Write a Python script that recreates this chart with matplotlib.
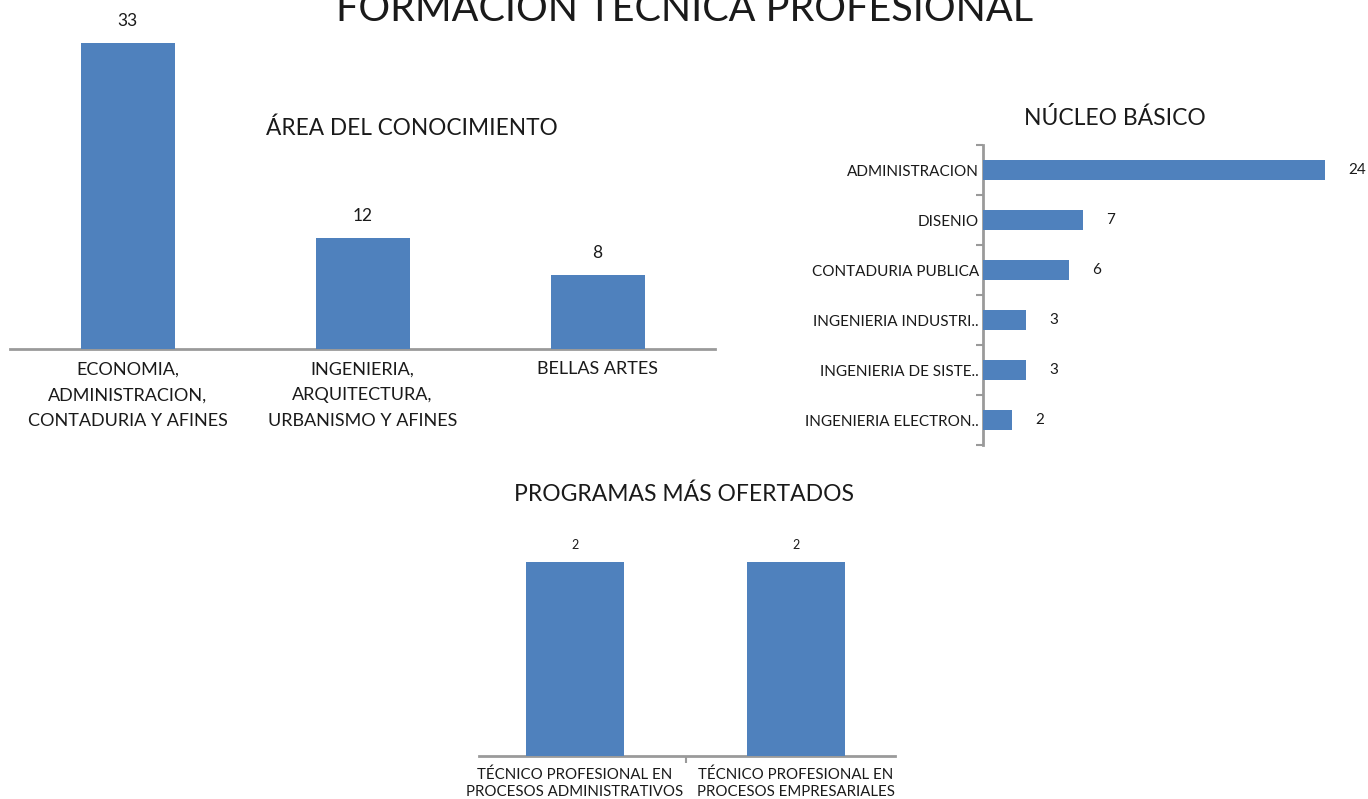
import matplotlib
matplotlib.use("Agg")
import matplotlib.pyplot as plt
import numpy as np

plt.rcParams["font.family"] = ["Lato", "DejaVu Sans"]

# ── Datos ────────────────────────────────────────────────────────────────────
TITULO = "FORMACIÓN TÉCNICA PROFESIONAL"

area_cats = ["ECONOMIA,\nADMINISTRACION,\nCONTADURIA Y AFINES",
             "INGENIERIA,\nARQUITECTURA,\nURBANISMO Y AFINES",
             "BELLAS ARTES"]
area_vals = [33, 12, 8]

nucleo_cats = ["ADMINISTRACION", "DISENIO", "CONTADURIA PUBLICA",
               "INGENIERIA INDUSTRI..", "INGENIERIA DE SISTE..",
               "INGENIERIA ELECTRON.."]
nucleo_vals = [24, 7, 6, 3, 3, 2]

prog_cats = ["TÉCNICO PROFESIONAL EN\nPROCESOS ADMINISTRATIVOS",
             "TÉCNICO PROFESIONAL EN\nPROCESOS EMPRESARIALES"]
prog_vals = [2, 2]

# ── Estilo ───────────────────────────────────────────────────────────────────
AZUL = "#4F81BD"
EJE = "#9A9A9A"
TXT = "#1A1A1A"
W, H = 1368, 799

fig = plt.figure(figsize=(W / 100, H / 100), dpi=100)
fig.patch.set_facecolor("white")


def px_axes(x0, y_top, x1, y_bot):
    # caja en pixeles (origen arriba-izquierda) -> fraccion de figura
    return fig.add_axes([x0 / W, 1 - y_bot / H, (x1 - x0) / W, (y_bot - y_top) / H])


def limpiar(ax):
    for s in ax.spines.values():
        s.set_visible(False)
    ax.set_facecolor("none")


# ── Título general (cortado arriba como en el original) ─────────────────────
fig.text(685 / W, 1 - 21 / H, TITULO, ha="center", va="baseline",
         fontsize=28.5, color=TXT)

# ── Gráfico 1: Área del conocimiento ─────────────────────────────────────────
ax1 = px_axes(10, 20, 715, 349)
limpiar(ax1)
x1 = np.arange(len(area_cats))
ax1.bar(x1, area_vals, width=0.4, color=AZUL, zorder=3)
ax1.set_xlim(-0.5, len(area_cats) - 0.5)
ax1.set_ylim(0, 329 / 9.27)
ax1.spines["bottom"].set_visible(True)
ax1.spines["bottom"].set_color(EJE)
ax1.spines["bottom"].set_linewidth(2)
ax1.set_yticks([])
ax1.set_xticks(x1)
ax1.set_xticklabels(area_cats, fontsize=13, linespacing=1.75, va="top", color=TXT)
ax1.tick_params(axis="x", length=0, pad=9)
for xi, v in zip(x1, area_vals):
    ax1.annotate(str(v), (xi, v), xytext=(0, 10), textcoords="offset points",
                 ha="center", va="bottom", fontsize=12.5, color=TXT)
fig.text(412 / W, 1 - 128 / H, "ÁREA DEL CONOCIMIENTO", ha="center",
         va="center", fontsize=16.3, color=TXT)

# ── Gráfico 2: Núcleo básico ─────────────────────────────────────────────────
ax2 = px_axes(983, 145, 1340, 445)
limpiar(ax2)
y2 = np.arange(len(nucleo_cats))
ax2.barh(y2, nucleo_vals, height=0.4, color=AZUL, zorder=3)
ax2.set_ylim(len(nucleo_cats) - 0.5, -0.5)
ax2.set_xlim(0, 357 / 14.25)
ax2.spines["left"].set_visible(True)
ax2.spines["left"].set_color(EJE)
ax2.spines["left"].set_linewidth(2)
ax2.set_xticks([])
ax2.set_yticks(np.arange(len(nucleo_cats) + 1) - 0.5)
ax2.set_yticklabels([])
ax2.tick_params(axis="y", which="major", length=5, width=1.5, color=EJE)
ax2.set_yticks(y2, minor=True)
ax2.set_yticklabels(nucleo_cats, minor=True, fontsize=11, color=TXT)
ax2.tick_params(axis="y", which="minor", length=0, pad=3)
for yi, v in zip(y2, nucleo_vals):
    ax2.annotate(str(v), (v, yi), xytext=(17, 0), textcoords="offset points",
                 ha="left", va="center", fontsize=11, color=TXT,
                 annotation_clip=False)
fig.text(1115 / W, 1 - 118 / H, "NÚCLEO BÁSICO", ha="center", va="center",
         fontsize=16.5, color=TXT)

# ── Gráfico 3: Programas más ofertados ───────────────────────────────────────
ax3 = px_axes(479, 530, 895, 756)
limpiar(ax3)
x3 = np.arange(len(prog_cats))
ax3.bar(x3, prog_vals, width=98 / 221, color=AZUL, zorder=3)
ax3.set_xlim(-96 / 221, 1 + 99 / 221)
ax3.set_ylim(0, 226 / 97)
ax3.spines["bottom"].set_visible(True)
ax3.spines["bottom"].set_color(EJE)
ax3.spines["bottom"].set_linewidth(2)
ax3.set_yticks([])
ax3.set_xticks([0.5])
ax3.set_xticklabels([""])
ax3.tick_params(axis="x", which="major", length=5, width=1.5, color=EJE)
ax3.set_xticks(x3, minor=True)
ax3.set_xticklabels(prog_cats, minor=True, fontsize=10.8, linespacing=1.3,
                    color=TXT)
ax3.tick_params(axis="x", which="minor", length=0, pad=8)
for xi, v in zip(x3, prog_vals):
    ax3.annotate(str(v), (xi, v), xytext=(0, 8), textcoords="offset points",
                 ha="center", va="bottom", fontsize=9, color=TXT)
fig.text(684 / W, 1 - 494 / H, "PROGRAMAS MÁS OFERTADOS", ha="center",
         va="center", fontsize=16.5, color=TXT)

plt.savefig("out.png", dpi=100, facecolor="white")
plt.close()
